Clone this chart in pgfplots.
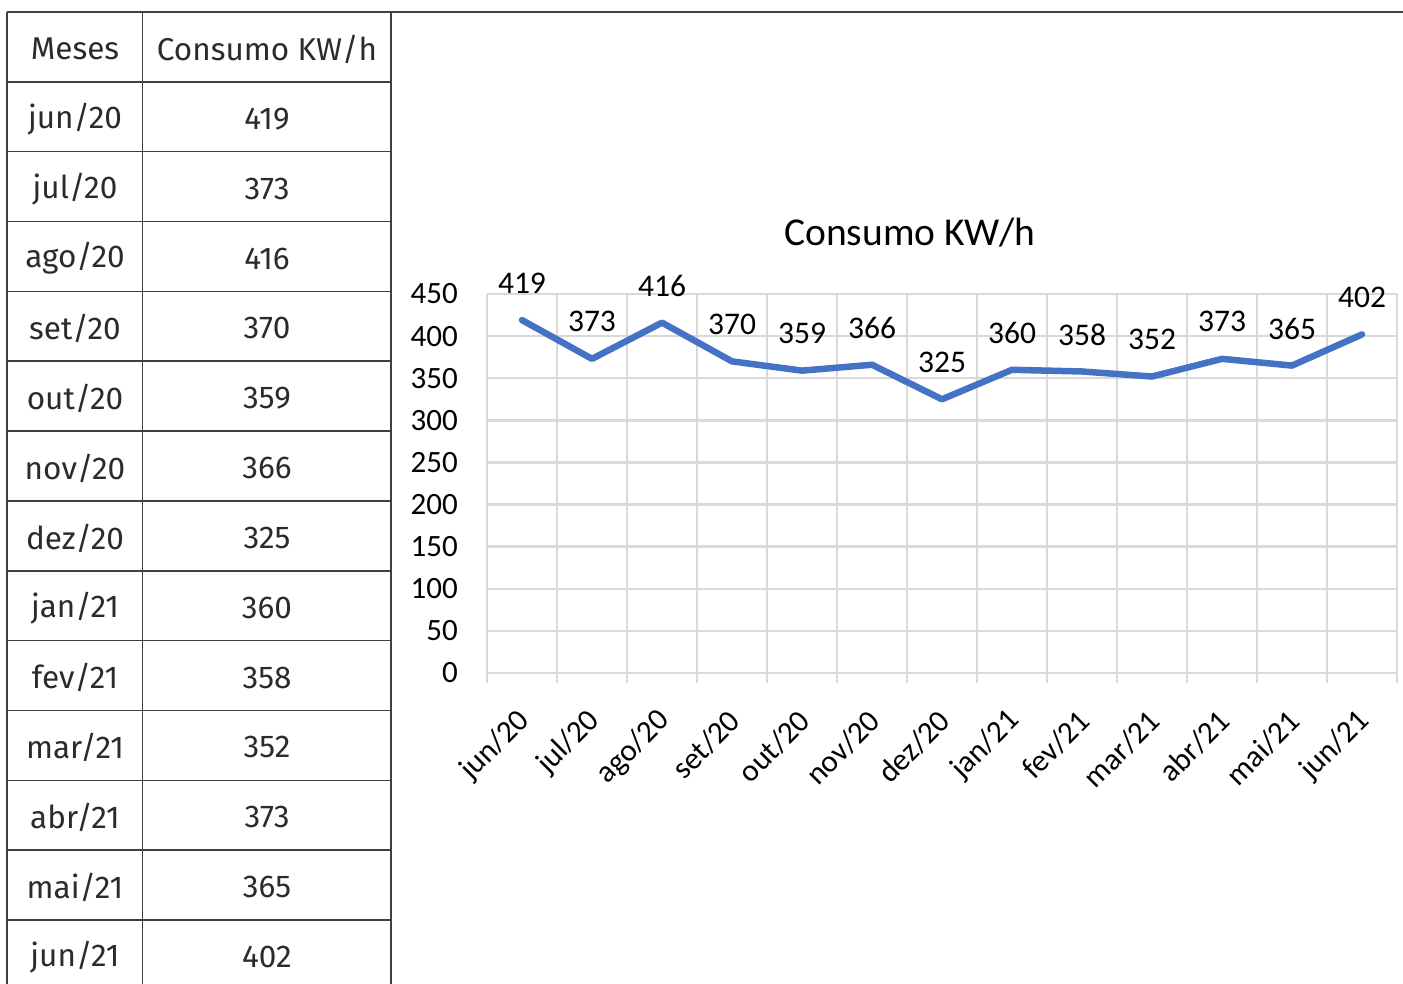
\documentclass[border=0pt]{standalone}
\usepackage{pgfplots}
\pgfplotsset{compat=1.18}
\usepackage{fontspec}
\setmainfont{Carlito}
\newfontfamily\tabfont{Fira Sans}
\definecolor{tline}{HTML}{404040}
\definecolor{ttext}{HTML}{2B2B2B}
\definecolor{gridc}{HTML}{D9D9D9}
\definecolor{lineblue}{HTML}{4472C4}
\begin{document}
\begin{tikzpicture}[x=1pt,y=1pt]
\useasboundingbox (0,0) rectangle (1403,984);
% table frame
\draw[tline, line width=1.5pt] (7,972) -- (1403,972);
\draw[tline, line width=1.5pt] (7,972) -- (7,0) (142.5,972) -- (142.5,0) (391,972) -- (391,0);
\foreach \i in {1,...,13} {\draw[tline,line width=1.5pt] (7,{972-69.85*\i}) -- (391,{972-69.85*\i});}
% table text
\begin{scope}[every node/.style={font=\tabfont\fontsize{31.5}{31.5}\selectfont, text=ttext, anchor=center}]
\node at (75,{972-37}) {Meses};
\node at (267,{972-37}) {Consumo KW/h};
\node at (75,{972-37-69.85*1}) {jun/20};  \node at (267,{972-37-69.85*1}) {419};
\node at (75,{972-37-69.85*2}) {jul/20};  \node at (267,{972-37-69.85*2}) {373};
\node at (75,{972-37-69.85*3}) {ago/20};  \node at (267,{972-37-69.85*3}) {416};
\node at (75,{972-37-69.85*4}) {set/20};  \node at (267,{972-37-69.85*4}) {370};
\node at (75,{972-37-69.85*5}) {out/20};  \node at (267,{972-37-69.85*5}) {359};
\node at (75,{972-37-69.85*6}) {nov/20};  \node at (267,{972-37-69.85*6}) {366};
\node at (75,{972-37-69.85*7}) {dez/20};  \node at (267,{972-37-69.85*7}) {325};
\node at (75,{972-37-69.85*8}) {jan/21};  \node at (267,{972-37-69.85*8}) {360};
\node at (75,{972-37-69.85*9}) {fev/21};  \node at (267,{972-37-69.85*9}) {358};
\node at (75,{972-37-69.85*10}) {mar/21}; \node at (267,{972-37-69.85*10}) {352};
\node at (75,{972-37-69.85*11}) {abr/21}; \node at (267,{972-37-69.85*11}) {373};
\node at (75,{972-37-69.85*12}) {mai/21}; \node at (267,{972-37-69.85*12}) {365};
\node at (75,{972-37-69.85*13}) {jun/21}; \node at (267,{972-37-69.85*13}) {402};
\end{scope}
\begin{axis}[
  at={(487pt,311pt)}, anchor=south west,
  scale only axis, width=910pt, height=379pt,
  xmin=-0.5, xmax=12.5, ymin=0, ymax=450,
  /pgf/number format/assume math mode=true,
  ytick={0,50,...,450},
  xtick={0,...,12},
  xticklabels={jun/20,jul/20,ago/20,set/20,out/20,nov/20,dez/20,jan/21,fev/21,mar/21,abr/21,mai/21,jun/21},
  minor xtick={-0.5,0.5,...,12.5},
  ymajorgrids, xminorgrids,
  grid style={gridc, line width=2.5pt},
  minor grid style={gridc, line width=2.5pt},
  axis line style={draw=none},
  major tick length=0pt,
  minor tick length=10pt,
  tick align=outside,
  xtick pos=bottom, ytick pos=left,
  minor x tick style={gridc, line width=2.5pt},
  major tick style={draw=none},
  yticklabel style={font=\fontsize{31}{31}\selectfont, anchor=east, inner sep=0pt, xshift=-29pt},
  xticklabel style={font=\fontsize{31}{31}\selectfont, inner sep=0pt, anchor=east, xshift=3pt, yshift=-43pt, rotate=45},
  title={Consumo KW/h},
  title style={font=\fontsize{39.5}{39.5}\selectfont, anchor=base, at={(0.4648,1)}, yshift=42pt},
  nodes near coords,
  every node near coord/.append style={font=\fontsize{31.5}{31.5}\selectfont, text=black, anchor=center, yshift=37pt},
]
\addplot[lineblue, line width=6.5pt, line join=round, line cap=round] coordinates {
(0,419) (1,373) (2,416) (3,370) (4,359) (5,366) (6,325) (7,360) (8,358) (9,352) (10,373) (11,365) (12,402)};
\end{axis}
\end{tikzpicture}
\end{document}
